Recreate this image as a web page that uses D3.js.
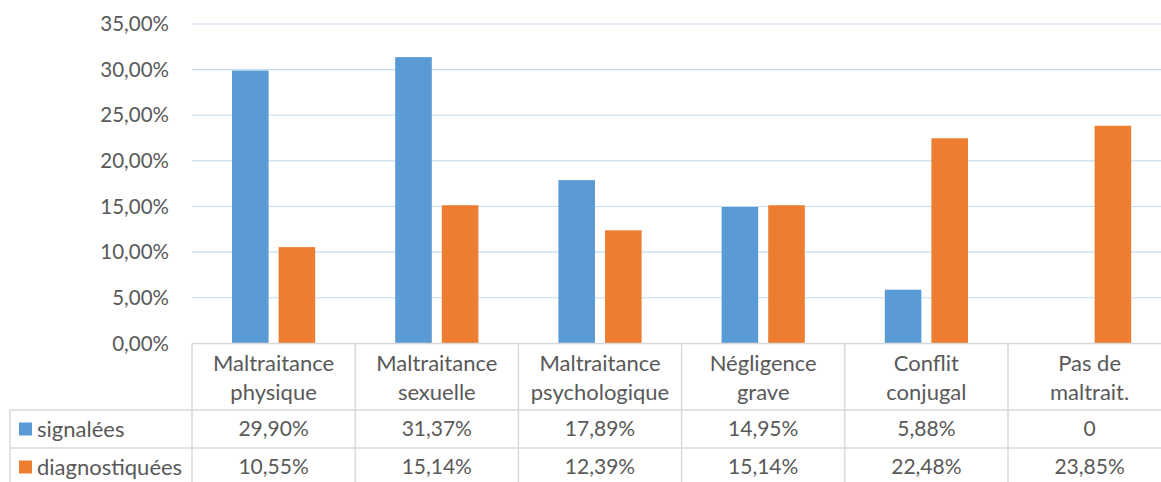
<!DOCTYPE html>
<html>
<head>
<meta charset="utf-8">
<script src="https://cdn.jsdelivr.net/npm/d3@7"></script>
<style>
  html, body { margin: 0; padding: 0; background: #fff; overflow: hidden; }
  svg { display: block; }
  text { font-family: Lato, "Open Sans", sans-serif; fill: #595959; }
</style>
</head>
<body>
<svg id="chart" width="1161" height="482"></svg>
<script>
// Categories (two-line header labels in the data table)
const categories = [
  ["Maltraitance", "physique"],
  ["Maltraitance", "sexuelle"],
  ["Maltraitance", "psychologique"],
  ["Négligence", "grave"],
  ["Conflit", "conjugal"],
  ["Pas de", "maltrait."]
];
const seriesNames = ["signalées", "diagnostiquées"];
const signalees = [29.90, 31.37, 17.89, 14.95, 5.88, 0];
const diagnostiquees = [10.55, 15.14, 12.39, 15.14, 22.48, 23.85];
const tableSignalees = ["29,90%", "31,37%", "17,89%", "14,95%", "5,88%", "0"];
const tableDiagnostiquees = ["10,55%", "15,14%", "12,39%", "15,14%", "22,48%", "23,85%"];
const yTicks = [0, 5, 10, 15, 20, 25, 30, 35];
const yTickLabels = ["0,00%", "5,00%", "10,00%", "15,00%", "20,00%", "25,00%", "30,00%", "35,00%"];
const colors = ["#5b9bd5", "#ed7d31"];

const svg = d3.select("#chart");

const plotLeft = 192, plotRight = 1171.2, plotTop = 24, plotBottom = 343.4;
const tableLeft = 10;
const rowSig = [410, 448];
const rowDia = [448, 486];

const wordSize = 22, numSize = 21, axisSize = 20.5;

const catKeys = categories.map((c, i) => i);
const x0 = d3.scaleBand().domain(catKeys).range([plotLeft, plotRight]).padding(0);
const x1 = d3.scaleBand().domain(seriesNames)
  .range([40, x0.bandwidth() - 40]).paddingInner(0.215).paddingOuter(0);
const y = d3.scaleLinear().domain([0, 35]).range([plotBottom, plotTop]);

// Horizontal gridlines
svg.append("g").selectAll("line").data(yTicks.filter(t => t > 0)).join("line")
  .attr("x1", plotLeft).attr("x2", plotRight)
  .attr("y1", d => y(d)).attr("y2", d => y(d))
  .attr("stroke", "#c5dbf0").attr("stroke-width", 1.2);

// Y-axis tick labels
svg.append("g").selectAll("text").data(yTicks).join("text")
  .attr("x", 169).attr("y", d => y(d)).attr("dy", "0.35em")
  .attr("text-anchor", "end").attr("font-size", axisSize)
  .text((d, i) => yTickLabels[i]);

// Bars
const seriesData = [signalees, diagnostiquees];
seriesNames.forEach((name, s) => {
  svg.append("g").selectAll("rect").data(seriesData[s]).join("rect")
    .attr("x", (d, i) => x0(i) + x1(name))
    .attr("width", x1.bandwidth())
    .attr("y", d => y(d))
    .attr("height", d => y(0) - y(d))
    .attr("fill", colors[s]);
});

// Data table grid
const grid = svg.append("g").attr("stroke", "#d9d9d9").attr("stroke-width", 1.5).attr("fill", "none");
grid.append("line").attr("x1", plotLeft).attr("x2", plotRight).attr("y1", plotBottom).attr("y2", plotBottom);
[rowSig[0], rowDia[0], rowDia[1]].forEach(yy => {
  grid.append("line").attr("x1", tableLeft).attr("x2", plotRight).attr("y1", yy).attr("y2", yy);
});
grid.append("line").attr("x1", tableLeft).attr("x2", tableLeft).attr("y1", rowSig[0]).attr("y2", rowDia[1]);
catKeys.concat([categories.length]).forEach(i => {
  const xx = i < categories.length ? x0(i) : plotRight;
  grid.append("line").attr("x1", xx).attr("x2", xx).attr("y1", plotBottom).attr("y2", rowDia[1]);
});

// Header cells
const header = svg.append("g").selectAll("text").data(categories).join("text")
  .attr("text-anchor", "middle").attr("font-size", wordSize)
  .attr("x", (d, i) => x0(i) + x0.bandwidth() / 2);
header.selectAll("tspan").data(d => d).join("tspan")
  .attr("x", function () { return d3.select(this.parentNode).attr("x"); })
  .attr("y", (d, j) => 363 + j * 29).attr("dy", "0.35em")
  .text(d => d);

// Value rows
const rows = [
  { values: tableSignalees, cy: (rowSig[0] + rowSig[1]) / 2 },
  { values: tableDiagnostiquees, cy: (rowDia[0] + rowDia[1]) / 2 }
];
rows.forEach((r, s) => {
  svg.append("g").selectAll("text").data(r.values).join("text")
    .attr("x", (d, i) => x0(i) + x0.bandwidth() / 2)
    .attr("y", r.cy).attr("dy", "0.35em")
    .attr("text-anchor", "middle").attr("font-size", numSize)
    .text(d => d);
  // Legend key and series name
  svg.append("rect").attr("x", 19).attr("y", r.cy - 6.5).attr("width", 13).attr("height", 13)
    .attr("fill", colors[s]);
  svg.append("text").attr("x", 37).attr("y", r.cy).attr("dy", "0.35em")
    .attr("font-size", wordSize).text(seriesNames[s]);
});
</script>
</body>
</html>
